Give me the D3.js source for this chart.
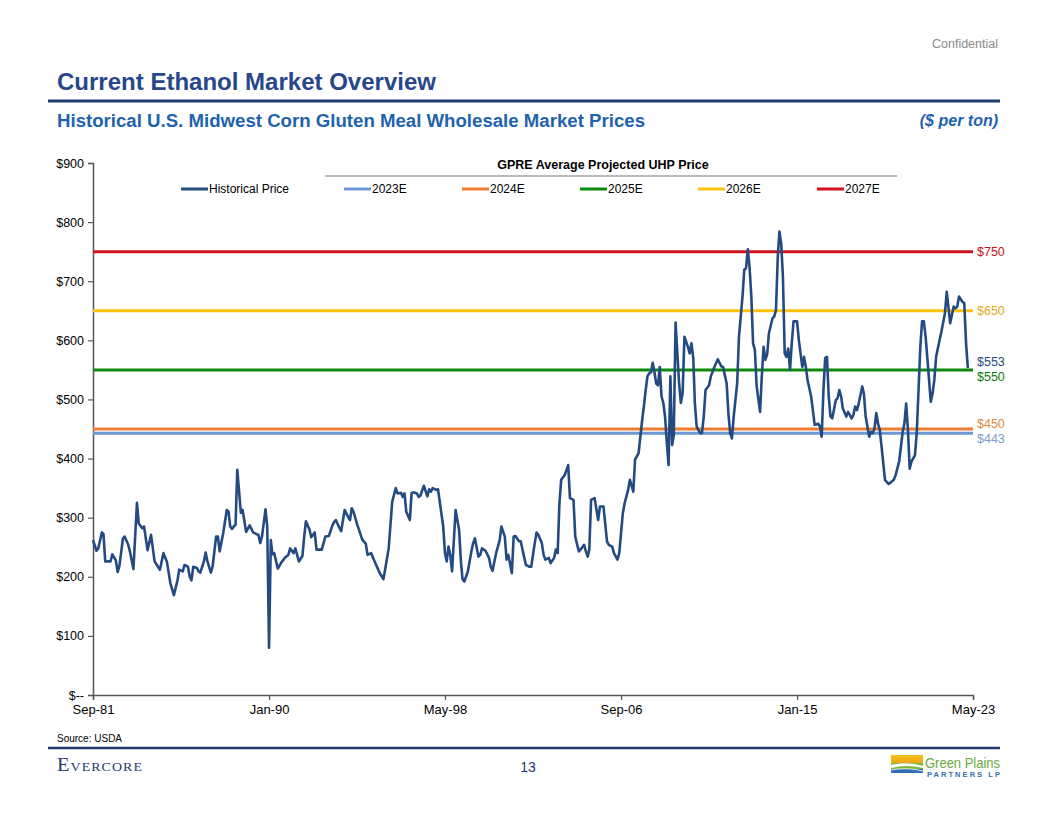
<!DOCTYPE html>
<html>
<head>
<meta charset="utf-8">
<script src="https://cdn.jsdelivr.net/npm/d3@7"></script>
<style>
  html, body { margin: 0; padding: 0; background: #ffffff; }
  svg { display: block; font-family: "Liberation Sans", Arial, sans-serif; }
</style>
</head>
<body>
<svg id="chart" width="1056" height="816"></svg>
<script>
// ---------------- DATA ----------------
const histDates = [
  "1981-09","1981-11","1981-12","1982-02","1982-03","1982-04","1982-07","1982-08","1982-10","1982-11","1982-12",
  "1983-02","1983-03","1983-05","1983-06","1983-08","1983-10","1983-11",
  "1984-01","1984-02","1984-04","1984-06","1984-08","1984-11",
  "1985-01","1985-03","1985-05","1985-07","1985-09","1985-10","1985-12",
  "1986-01","1986-03","1986-04","1986-05","1986-06","1986-08","1986-09","1986-10","1986-12",
  "1987-01","1987-02","1987-04","1987-05","1987-07","1987-08","1987-09","1987-11",
  "1988-01","1988-02","1988-03","1988-04","1988-05","1988-06","1988-07","1988-09","1988-10","1988-12",
  "1989-02","1989-04","1989-06","1989-07","1989-08","1989-09","1989-11","1989-12",
  "1990-01","1990-02","1990-03","1990-04","1990-06","1990-08","1990-10","1990-12",
  "1991-01","1991-03","1991-04","1991-06","1991-08","1991-09","1991-10","1991-12",
  "1992-01","1992-03","1992-04","1992-07","1992-09","1992-11",
  "1993-01","1993-02","1993-03","1993-05","1993-06","1993-08","1993-09","1993-11","1993-12",
  "1994-01","1994-03","1994-06","1994-08","1994-09","1994-11",
  "1995-01","1995-04","1995-06","1995-07","1995-09","1995-11",
  "1996-01","1996-02","1996-04","1996-05","1996-06","1996-07","1996-09","1996-10","1996-11",
  "1997-01","1997-02","1997-03","1997-05","1997-07","1997-08","1997-09","1997-10","1997-12",
  "1998-01","1998-04","1998-05","1998-06","1998-07","1998-08","1998-09","1998-11",
  "1999-01","1999-02","1999-03","1999-04","1999-06","1999-08","1999-09","1999-10","1999-12",
  "2000-01","2000-02","2000-04","2000-06","2000-07","2000-08","2000-10","2000-12",
  "2001-01","2001-03","2001-04","2001-05","2001-07","2001-08","2001-09","2001-11","2001-12",
  "2002-02","2002-03","2002-05","2002-06","2002-08","2002-09","2002-10","2002-12",
  "2003-01","2003-02","2003-04","2003-05","2003-07","2003-08","2003-09","2003-10","2003-11",
  "2004-01","2004-03","2004-04","2004-06","2004-07","2004-09","2004-10","2004-12",
  "2005-01","2005-02","2005-03","2005-04","2005-06","2005-08","2005-09","2005-11","2005-12",
  "2006-01","2006-02","2006-04","2006-05","2006-07","2006-08","2006-10","2006-11",
  "2007-01","2007-02","2007-04","2007-05","2007-07","2007-09","2007-10","2007-11","2007-12",
  "2008-01","2008-02","2008-03","2008-04","2008-05","2008-06","2008-07","2008-08","2008-09","2008-10","2008-11","2008-12",
  "2009-01","2009-02","2009-03","2009-04","2009-06","2009-07","2009-08","2009-09","2009-11","2009-12",
  "2010-01","2010-02","2010-03","2010-04","2010-06","2010-07","2010-08","2010-09","2010-11","2010-12",
  "2011-02","2011-04","2011-06","2011-07","2011-09","2011-10","2011-11","2011-12",
  "2012-01","2012-03","2012-04","2012-06","2012-07","2012-08","2012-09","2012-10","2012-11","2012-12",
  "2013-01","2013-02","2013-04","2013-05","2013-06","2013-07","2013-08","2013-09","2013-11","2013-12",
  "2014-01","2014-02","2014-03","2014-04","2014-05","2014-06","2014-07","2014-08","2014-09","2014-10","2014-11",
  "2015-01","2015-02","2015-04","2015-05","2015-06","2015-07","2015-09","2015-10","2015-11",
  "2016-01","2016-02","2016-03","2016-04","2016-05","2016-06","2016-07","2016-08","2016-09","2016-11","2016-12",
  "2017-01","2017-02","2017-03","2017-05","2017-06","2017-08","2017-09","2017-10","2017-11","2017-12",
  "2018-02","2018-03","2018-04","2018-06","2018-07","2018-08","2018-09","2018-10","2018-11","2018-12",
  "2019-01","2019-03","2019-05","2019-06","2019-08","2019-09","2019-11",
  "2020-01","2020-02","2020-03","2020-04","2020-05","2020-06","2020-08","2020-09","2020-10","2020-11","2020-12",
  "2021-01","2021-02","2021-03","2021-05","2021-06","2021-07","2021-08","2021-10","2021-11",
  "2022-01","2022-02","2022-03","2022-04","2022-05","2022-06","2022-07","2022-08","2022-09","2022-11","2022-12",
  "2023-01","2023-02","2023-04","2023-05"
];
const histValues = [
  262,244,248,275,272,226,226,238,228,208,218,
  265,268,255,243,213,325,290,
  282,285,245,271,226,212,
  240,226,189,169,194,212,209,
  220,217,200,194,217,215,209,207,226,
  241,226,207,217,268,268,243,274,
  313,310,285,281,285,288,381,308,313,276,
  287,275,272,271,257,268,314,285,
  80,262,238,240,214,224,232,237,
  248,240,248,226,235,268,294,280,
  267,275,246,246,268,269,
  287,293,296,283,277,313,307,296,316,
  310,290,263,256,237,240,
  226,206,196,212,248,327,
  350,341,342,335,341,310,296,341,343,
  341,335,337,354,336,348,344,350,347,
  348,285,240,226,251,237,209,313,
  279,226,196,192,209,243,257,265,234,
  237,248,244,232,217,210,240,261,
  285,268,229,237,206,268,269,260,260,
  232,220,217,217,257,275,271,257,
  237,229,232,223,232,246,240,324,364,
  372,389,333,330,268,243,246,254,
  243,234,246,330,333,296,319,319,290,
  260,254,251,240,229,240,307,324,
  347,364,344,398,409,465,488,516,
  539,544,546,562,546,527,524,555,505,494,471,426,
  389,539,423,440,630,527,494,511,606,589,
  578,595,570,493,454,443,443,471,516,524,
  539,555,568,556,555,527,477,443,
  434,471,527,606,674,719,722,754,724,674,
  595,584,522,479,539,589,567,576,612,637,
  640,651,741,784,764,708,578,572,586,550,595,
  632,632,600,555,572,555,533,505,482,
  457,459,454,437,516,570,572,505,471,468,499,
  502,516,505,485,471,479,468,474,488,482,
  493,522,510,471,437,445,443,451,477,459,
  448,420,364,357,359,364,372,
  395,445,460,493,449,383,395,406,445,516,589,
  632,632,606,572,496,510,533,572,
  601,615,646,682,657,629,643,657,654,657,674,
  665,663,595,553
];

const projLabels = ["2023E","2024E","2025E","2026E","2027E"];
const projValues = [443, 450, 550, 650, 750];

const histLabel = "Historical Price";
const yTickValues = [0,100,200,300,400,500,600,700,800,900];
const xTickDates = ["1981-09","1990-01","1998-05","2006-09","2015-01","2023-05"];

// ---------------- STYLES ----------------
const navy = "#234B82";
const projColors = { "2023E":"#6E97D6", "2024E":"#ED7D31", "2025E":"#0B8A0B", "2026E":"#FFC20E", "2027E":"#D0121B" };
const projTextColors = { "2023E":"#7A9BD3", "2024E":"#E08A3C", "2025E":"#0B7D0B", "2026E":"#E2AA1C", "2027E":"#C8101A" };
const font = '"Liberation Sans", Arial, sans-serif';

const svg = d3.select("#chart");
const parse = d3.timeParse("%Y-%m");
const hist = histDates.map((d, i) => ({ date: parse(d), value: histValues[i] }));

const x = d3.scaleTime()
  .domain([parse(xTickDates[0]), parse(xTickDates[xTickDates.length - 1])])
  .range([93, 973]);
const y = d3.scaleLinear().domain([0, 900]).range([695, 163]);

// ---------------- HEADER ----------------
svg.append("text").attr("x", 998).attr("y", 48).attr("text-anchor", "end")
  .attr("font-size", 12.5).attr("fill", "#8a8a8a").text("Confidential");

svg.append("text").attr("x", 57).attr("y", 90)
  .attr("font-size", 23).attr("font-weight", "bold").attr("fill", "#27478A")
  .attr("textLength", 379).attr("lengthAdjust", "spacingAndGlyphs")
  .text("Current Ethanol Market Overview");

svg.append("line").attr("x1", 48).attr("x2", 1000).attr("y1", 101).attr("y2", 101)
  .attr("stroke", "#1F3A6E").attr("stroke-width", 3);

svg.append("text").attr("x", 57).attr("y", 127)
  .attr("font-size", 18).attr("font-weight", "bold").attr("fill", "#1F62AE")
  .attr("textLength", 588).attr("lengthAdjust", "spacingAndGlyphs")
  .text("Historical U.S. Midwest Corn Gluten Meal Wholesale Market Prices");

svg.append("text").attr("x", 998).attr("y", 126).attr("text-anchor", "end")
  .attr("font-size", 16).attr("font-weight", "bold").attr("font-style", "italic")
  .attr("fill", "#1F62AE").text("($ per ton)");

// ---------------- AXES ----------------
const yAxis = d3.axisLeft(y).tickValues(yTickValues).tickSize(5).tickPadding(4)
  .tickFormat(v => v === 0 ? "$--" : "$" + v);
const gy = svg.append("g").attr("transform", "translate(93,0)").call(yAxis);
gy.select(".domain").attr("stroke", "#555").attr("stroke-width", 1.5);
gy.selectAll(".tick line").attr("stroke", "#555").attr("stroke-width", 1.2);
gy.selectAll(".tick text").attr("font-family", font).attr("font-size", 12.5).attr("fill", "#000");

const xAxis = d3.axisBottom(x).tickValues(xTickDates.map(parse)).tickSize(5).tickPadding(5)
  .tickFormat(d3.timeFormat("%b-%y"));
const gx = svg.append("g").attr("transform", "translate(0,695)").call(xAxis);
gx.select(".domain").attr("stroke", "#555").attr("stroke-width", 1.5);
gx.selectAll(".tick line").attr("stroke", "#555").attr("stroke-width", 1.2);
gx.selectAll(".tick text").attr("font-family", font).attr("font-size", 13).attr("fill", "#000");

// ---------------- PROJECTION LINES ----------------
const xStart = x.range()[0], xEnd = x.range()[1];
projLabels.forEach((lab, i) => {
  svg.append("line")
    .attr("x1", xStart).attr("x2", xEnd)
    .attr("y1", y(projValues[i])).attr("y2", y(projValues[i]))
    .attr("stroke", projColors[lab]).attr("stroke-width", 3);
});

// ---------------- HISTORICAL LINE ----------------
const line = d3.line().x(d => x(d.date)).y(d => y(d.value)).curve(d3.curveLinear);
svg.append("path").datum(hist)
  .attr("fill", "none").attr("stroke", navy).attr("stroke-width", 2.6)
  .attr("stroke-linejoin", "round").attr("d", line);

// ---------------- RIGHT LABELS ----------------
const labels = projLabels.map((lab, i) => ({ text: "$" + projValues[i], y: y(projValues[i]), color: projTextColors[lab] }));
labels.push({ text: "$" + histValues[histValues.length - 1], y: y(histValues[histValues.length - 1]), color: navy });
labels.sort((a, b) => a.y - b.y);
for (let it = 0; it < 50; it++) {
  for (let i = 1; i < labels.length; i++) {
    const gap = labels[i].y - labels[i - 1].y;
    if (gap < 14.5) {
      const push = (14.5 - gap) / 2;
      labels[i].y += push; labels[i - 1].y -= push;
    }
  }
}
labels.forEach(l => {
  svg.append("text").attr("x", 977).attr("y", l.y).attr("dy", "0.36em")
    .attr("font-size", 12.5).attr("fill", l.color).text(l.text);
});

// ---------------- LEGEND ----------------
svg.append("text").attr("x", 603).attr("y", 169).attr("text-anchor", "middle")
  .attr("font-size", 12.5).attr("font-weight", "bold").attr("fill", "#000")
  .text("GPRE Average Projected UHP Price");
svg.append("line").attr("x1", 325).attr("x2", 897).attr("y1", 176).attr("y2", 176)
  .attr("stroke", "#777").attr("stroke-width", 1);

const legendItems = [{ label: histLabel, color: navy }].concat(projLabels.map(l => ({ label: l, color: projColors[l] })));
const legendX = [181, 344, 462, 580, 698, 817];
legendItems.forEach((it, i) => {
  const lx = legendX[i];
  svg.append("line").attr("x1", lx).attr("x2", lx + 27).attr("y1", 189).attr("y2", 189)
    .attr("stroke", it.color).attr("stroke-width", 3);
  svg.append("text").attr("x", lx + 28).attr("y", 189).attr("dy", "0.35em")
    .attr("font-size", 12).attr("fill", "#000").text(it.label);
});

// ---------------- FOOTER ----------------
svg.append("text").attr("x", 57).attr("y", 742).attr("font-size", 10).attr("fill", "#000").text("Source: USDA");
svg.append("line").attr("x1", 48).attr("x2", 1000).attr("y1", 748).attr("y2", 748)
  .attr("stroke", "#1F3A6E").attr("stroke-width", 2.5);

svg.append("text").attr("x", 57).attr("y", 771)
  .attr("font-family", '"Liberation Serif", "DejaVu Serif", serif')
  .attr("font-size", 19).attr("fill", "#1F3A6E").attr("letter-spacing", 1)
  .attr("textLength", 86).attr("lengthAdjust", "spacingAndGlyphs")
  .style("font-variant", "small-caps").text("Evercore");

svg.append("text").attr("x", 528).attr("y", 772).attr("text-anchor", "middle")
  .attr("font-size", 14).attr("fill", "#1F3A6E").text("13");

// Green Plains logo
const logo = svg.append("g").attr("transform", "translate(891,755)");
const grad = svg.append("defs").append("linearGradient").attr("id", "gpSky").attr("x1", 0).attr("y1", 0).attr("x2", 0).attr("y2", 1);
grad.append("stop").attr("offset", "0%").attr("stop-color", "#F6C21A");
grad.append("stop").attr("offset", "100%").attr("stop-color", "#F0A31A");
logo.append("rect").attr("x", 0).attr("y", 0).attr("width", 32).attr("height", 8).attr("fill", "url(#gpSky)");
logo.append("rect").attr("x", 0).attr("y", 8).attr("width", 32).attr("height", 6).attr("fill", "#7DB83F");
logo.append("path").attr("d", "M0,10 Q16,6 32,11 L32,13 Q16,9 0,13 Z").attr("fill", "#ffffff");
logo.append("rect").attr("x", 0).attr("y", 14).attr("width", 32).attr("height", 4).attr("fill", "#2F6FB3");
logo.append("path").attr("d", "M0,15 Q16,12 32,16").attr("stroke", "#ffffff").attr("stroke-width", 0.8).attr("fill", "none");
svg.append("text").attr("x", 925).attr("y", 768).attr("font-size", 14.5).attr("fill", "#6AA842")
  .attr("textLength", 75).attr("lengthAdjust", "spacingAndGlyphs").text("Green Plains");
svg.append("text").attr("x", 927).attr("y", 777).attr("font-size", 7.5).attr("font-weight", "bold").attr("fill", "#2F6FB3")
  .attr("textLength", 73).attr("lengthAdjust", "spacing").text("PARTNERS LP");
</script>
</body>
</html>
